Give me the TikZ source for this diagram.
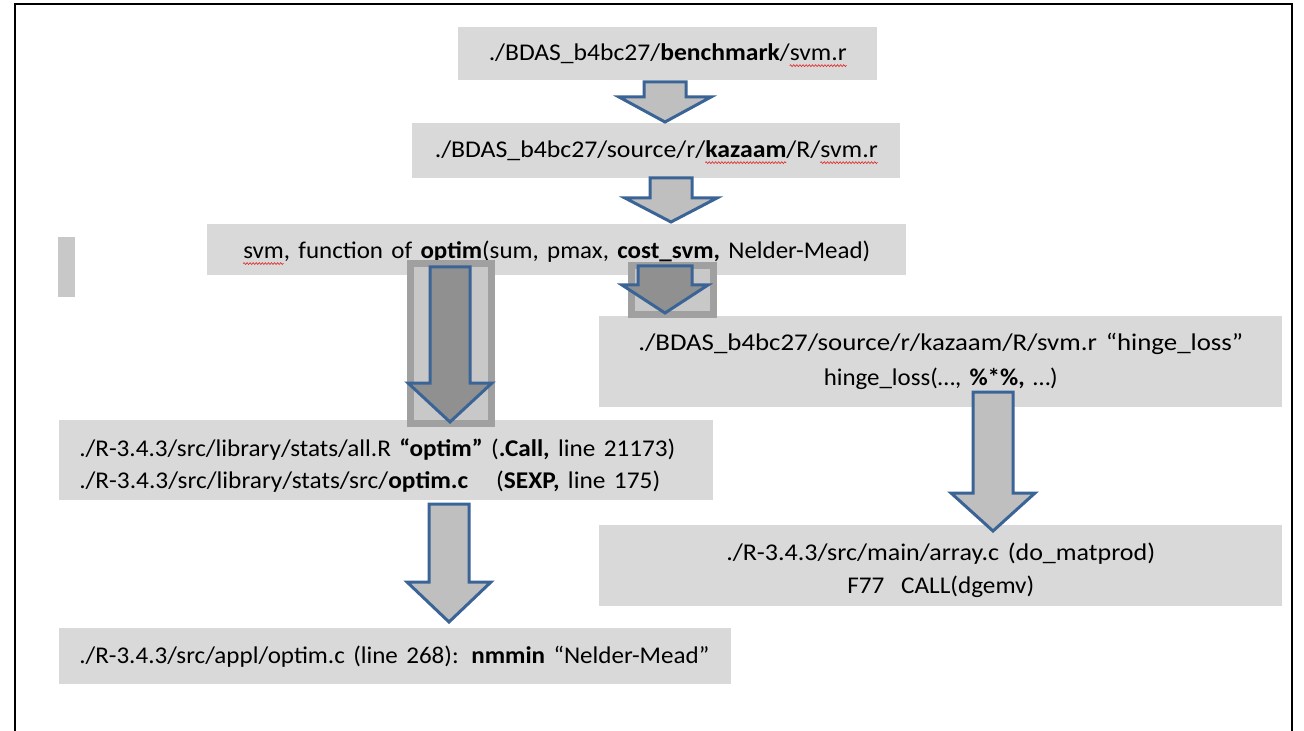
\documentclass[tikz,border=0pt]{standalone}
\usepackage{fontspec}
\usepackage{graphicx}
\usetikzlibrary{decorations.pathmorphing}
\setmainfont{Carlito}

\definecolor{boxgray}{HTML}{D9D9D9}
\definecolor{arrowgray}{HTML}{BFBFBF}
\definecolor{arrowblue}{RGB}{59,100,150}
\definecolor{veilgray}{HTML}{C8C8C8}
\definecolor{veilrim}{HTML}{A0A0A0}
\definecolor{shadedarrow}{HTML}{909090}
\definecolor{spellred}{RGB}{225,40,40}

% red wavy underline of a word flagged by the spell checker
\newsavebox\spellbox
\newcommand\spellwave[1]{\sbox\spellbox{#1}\usebox\spellbox\llap{\tikz[x=1pt,y=1pt,baseline=0pt]{%
  \useasboundingbox (0,0) rectangle (\the\wd\spellbox,0);
  \draw[spellred, line width=0.45pt, decorate,
    decoration={zigzag, segment length=2.2pt, amplitude=0.7pt}]
    (0,-3.8) -- (\the\wd\spellbox,-3.8);}}}

% set one line of text to a given width, keeping its height
\newcommand\fitto[2]{\resizebox{#1}{\height}{#2}}

% block arrow: [style] centre x, top, neck, tip, shaft half width, head half width
\newcommand\blockarrow[7][]{%
  \path[blockarr,#1] ({#2-#6},#3) -- ({#2+#6},#3) -- ({#2+#6},#4) -- ({#2+#7},#4)
    -- (#2,#5) -- ({#2-#7},#4) -- ({#2-#6},#4) -- cycle;}

\tikzset{
  boxnode/.style={fill=boxgray, anchor=north west, inner xsep=15pt, inner ysep=0pt,
    font=\fontsize{18}{24}\selectfont},
  blockarr/.style={fill=arrowgray, draw=arrowblue, line width=2.25pt},
  shadearr/.style={fill=shadedarrow},
  veil/.style={fill=veilgray, draw=veilrim, line width=5.25pt},
  frameline/.style={line width=1.6pt, black}
}

\begin{document}
\begin{tikzpicture}[x=0.75pt, y=-0.75pt]
\useasboundingbox (0,0) rectangle (1304,731);

% page frame
\draw[frameline] (15,731) -- (15,4) -- (1292,4) -- (1292,731);

% side marker
\path[fill=veilgray] (58,237) rectangle (75,297);

% boxes
\node[boxnode, text width=284.25pt, minimum height=39.75pt, align=center] (b1) at (458,27)
  {\fitto{268.5pt}{./BDAS\_b4bc27/\textbf{benchmark}/\spellwave{svm.r}}};
\node[boxnode, text width=336pt, minimum height=41.25pt, align=center] (b2) at (412,123)
  {\fitto{332.25pt}{./BDAS\_b4bc27/source/r/\spellwave{\textbf{kazaam}}/R/\spellwave{svm.r}}};
\node[boxnode, text width=494.25pt, minimum height=38.25pt, align=center] (b3) at (207,224)
  {\fitto{470.25pt}{\rule{0pt}{16pt}\spellwave{svm}, function of \textbf{optim}(sum, pmax, \textbf{cost\_svm,} Nelder-Mead)}};
\node[boxnode, text width=482.25pt, minimum height=68.25pt, align=center,
  font=\fontsize{18}{26.25}\selectfont] (b4) at (599,316)
  {\fitto{453.75pt}{./BDAS\_b4bc27/source/r/kazaam/R/svm.r “hinge\_loss”}\\
   \fitto{175.5pt}{hinge\_loss(…, \textbf{\%*\%,} …)}};
\node[boxnode, text width=482.25pt, minimum height=60.75pt, align=center,
  font=\fontsize{18}{24.75}\selectfont] (b5) at (599,525)
  {\fitto{321.75pt}{\rule{0pt}{20pt}./R-3.4.3/src/main/array.c (do\_matprod)}\\
   \fitto{140.25pt}{F77\ \ CALL(dgemv)}};
\node[boxnode, text width=460.5pt, minimum height=60pt, align=left] (b6) at (59,420)
  {\fitto{447pt}{\rule{0pt}{21.5pt}./R-3.4.3/src/library/stats/all.R \textbf{“optim”} (\textbf{.Call,} line 21173)}\\
   \fitto{435.75pt}{./R-3.4.3/src/library/stats/src/\textbf{optim.c}\hspace{1.1em}(\textbf{SEXP,} line 175)}};
\node[boxnode, text width=474pt, minimum height=42pt, align=left] (b7) at (59,628)
  {\fitto{472.5pt}{./R-3.4.3/src/appl/optim.c (line 268): \textbf{nmmin} “Nelder-Mead”}};

% plain block arrows
\blockarrow{665}{82}{97}{122}{21}{46}
\blockarrow{671}{178}{198}{222}{21}{46}
\blockarrow{993}{392}{493}{531}{20}{42}
\blockarrow{449}{504}{582}{622}{20}{42}

% block arrows under a selection veil
\path[veil] (410.5,263.5) rectangle (491.5,423.5);
\blockarrow[shadearr]{450}{267}{383}{422}{20}{42}
\path[veil] (631.5,265.5) rectangle (713.5,314.5);
\blockarrow[shadearr]{665}{266}{285}{313}{27}{43}
\end{tikzpicture}
\end{document}
